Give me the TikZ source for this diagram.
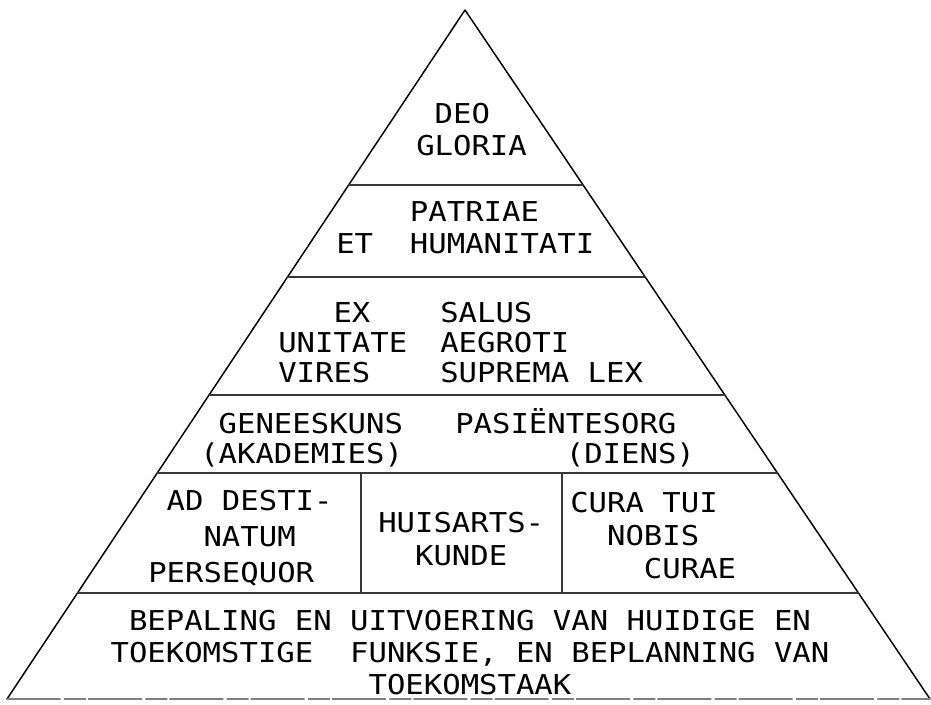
\documentclass[tikz,border=0pt]{standalone}
\usepackage{fontspec}
\usetikzlibrary{calc}
\newfontfamily\typefont[FakeStretch=1.12]{DejaVu Sans Mono}
\definecolor{inkgray}{RGB}{55,55,55}

\begin{document}
\begin{tikzpicture}[x=0.75pt,y=-0.75pt,line cap=round,line join=round,
 motto/.style={font=\typefont\fontsize{20.5pt}{#1}\selectfont,
  inner sep=0pt,align=left,anchor=base west},
 motto/.default=24pt]
 \useasboundingbox (0,0) rectangle (931,704);
 \coordinate (apex) at (465,10);
 \coordinate (bl) at (7,699);
 \coordinate (br) at (930,699);
 % band boundaries on both sides
 \foreach \y [count=\i] in {185,277,395,473,593}{
  \coordinate (l\i) at ($(apex)!{(\y-10)/689}!(bl)$);
  \coordinate (r\i) at ($(apex)!{(\y-10)/689}!(br)$);
 }
 \coordinate (v1) at (361,473);
 \coordinate (w1) at (361,593);
 \coordinate (v2) at (562,473);
 \coordinate (w2) at (562,593);
 \draw[line width=1.1pt] (bl)--(apex)--(br);
 \foreach \i in {1,...,5}
  \draw[inkgray,line width=0.9pt] (l\i)--(r\i);
 \draw[inkgray,line width=0.9pt] (v1)--(w1) (v2)--(w2);
 \draw[gray,line width=0.8pt,dash pattern=on 40pt off 3pt on 16pt off 2pt]
  (bl)--(br);
 % last line of each node sits on the given point
 \node[motto=24pt] (deo) at (416,155) {~DEO\\GLORIA};
 \node[motto=24pt] (patriae) at (336,253) {~~~~PATRIAE\\ET~~HUMANITATI};
 \node[motto=22.5pt] (unitate) at (278,382) {~~~EX\\UNITATE\\VIRES};
 \node[motto=22.5pt] (salus) at (440,382) {SALUS\\AEGROTI\\SUPREMA~LEX};
 \node[motto=22.5pt] (geneeskuns) at (200,463) {~GENEESKUNS\\(AKADEMIES)};
 \node[motto=22.5pt] (pasient) at (455,463) {PASIËNTESORG\\~~~~~~(DIENS)};
 \node[motto=27pt] (destinatum) at (148,582) {~AD~DESTI-\\~~~NATUM\\PERSEQUOR};
 \node[motto=24.75pt] (huisarts) at (378,565) {HUISARTS-\\~~KUNDE};
 \node[motto=24.4pt] (cura) at (570,578) {CURA~TUI\\~~NOBIS\\~~~~CURAE};
 \node[motto=24pt,align=center,anchor=base] (bepaling) at (470,694)
  {BEPALING EN UITVOERING VAN HUIDIGE EN\\
   TOEKOMSTIGE~~FUNKSIE, EN BEPLANNING VAN\\TOEKOMSTAAK};
\end{tikzpicture}
\end{document}
